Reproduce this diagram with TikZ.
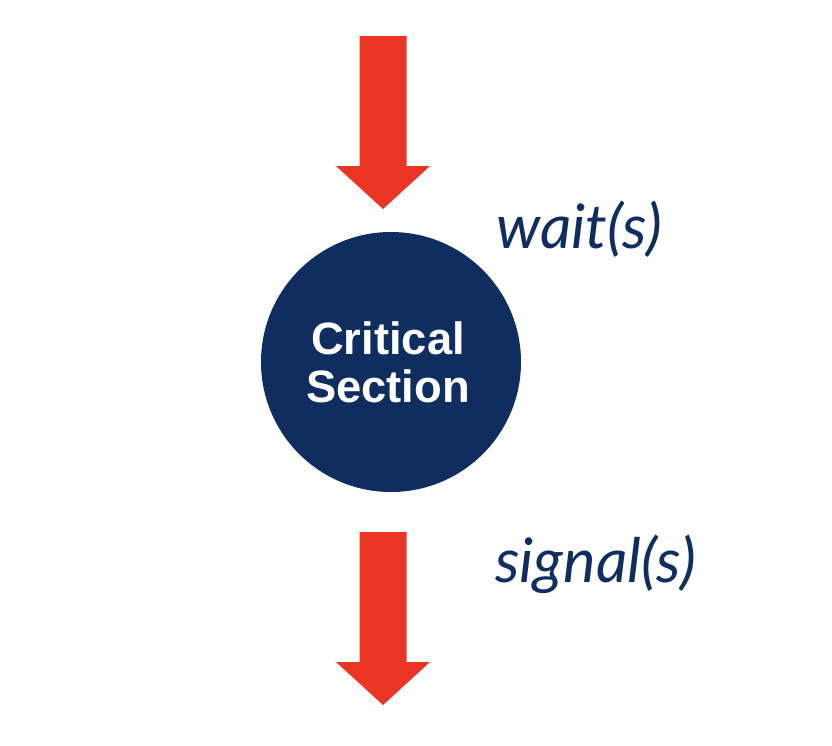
\documentclass[tikz,border=0pt]{standalone}
\usepackage{fontspec}
\setsansfont{Liberation Sans}
\newfontfamily\latofont{Lato}
\usetikzlibrary{positioning}
\definecolor{csnavy}{HTML}{0F2D5F}
\definecolor{arrowred}{HTML}{EB3524}

\begin{document}
\begin{tikzpicture}[
  x=0.75pt, y=-0.75pt,
  blockarrow/.style={fill=arrowred},
  section/.style={circle, fill=csnavy, minimum size=195pt, inner sep=0pt},
  sectext/.style={text=white, align=center, inner sep=0pt, font=\sffamily\bfseries\fontsize{34}{36}\selectfont},
  oplabel/.style={text=csnavy, anchor=base west, inner sep=0pt, font=\latofont\itshape\fontsize{46}{52}\selectfont}
]
\useasboundingbox (0,0) rectangle (832,746);
% entry and exit arrows
\foreach \y in {36,532}
  \fill[blockarrow] (359.5,\y) -- (406.5,\y) -- (406.5,\y+130) -- (430,\y+130)
    -- (383,\y+173) -- (336,\y+130) -- (359.5,\y+130) -- cycle;
\node[section] (cs) at (391,362) {};
\node[sectext] (cstext) at (388,362) {Critical\\Section};
\node[oplabel] (wait) at (496,248) {wait(s)};
\node[oplabel] (signal) at (495,582) {signal(s)};
\end{tikzpicture}
\end{document}
